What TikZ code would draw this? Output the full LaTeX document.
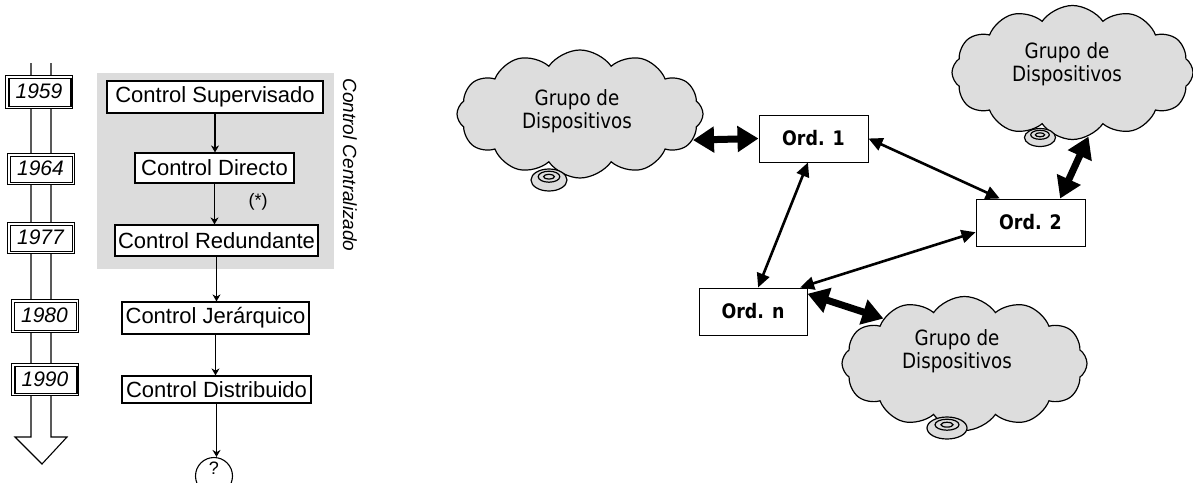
\documentclass[tikz,border=0pt]{standalone}
\usepackage{fontspec}
\setmainfont{Liberation Sans}
\newfontfamily\tahoma[FakeStretch=0.87]{DejaVu Sans}
\usetikzlibrary{arrows.meta,shapes.symbols,calc}
\definecolor{panelgray}{HTML}{DCDCDC}
\definecolor{cloudgray}{HTML}{DDDDDD}
\begin{document}
\begin{tikzpicture}[x=1pt,y=-1pt,
  flowbox/.style={draw,line width=1.2pt,fill=white,inner sep=0pt,
    font=\fontsize{22}{26}\selectfont},
  yearbox/.style={draw,line width=0.8pt,fill=white,inner sep=0pt,
    minimum width=67pt,font=\fontsize{21}{25}\selectfont\itshape},
  flowarrow/.style={line width=1.3pt,-{Stealth[length=7pt,width=8pt]}},
  ordbox/.style={draw,line width=1pt,fill=white,minimum width=109pt,
    minimum height=47pt,inner sep=0pt,
    font=\tahoma\bfseries\fontsize{20}{24}\selectfont},
  cloudgroup/.style={cloud,cloud puffs=12,cloud puff arc=110,draw,
    cloud ignores aspect,line width=1.2pt,fill=cloudgray,inner sep=0pt},
  cloudtext/.style={align=center,font=\tahoma\fontsize{21}{23}\selectfont},
  thickarrow/.style={line width=7pt,
    {Triangle[length=21pt,width=25pt]}-{Triangle[length=21pt,width=25pt]}},
  thinarrow/.style={line width=2.6pt,
    {Triangle[length=14pt,width=13pt]}-{Triangle[length=14pt,width=13pt]}},
  bubble/.style={draw,line width=1.2pt,fill=cloudgray}
]
\useasboundingbox (0,0) rectangle (1193,482);

% ---- time line with hollow arrow ----
\draw[line width=1.1pt] (31,63) -- (31,437) -- (15,437) -- (42,464)
  -- (67,437) -- (51,437) -- (51,63);

\node[yearbox,minimum height=33pt] (y59) at (39,91.5) {1959};
\node[yearbox,minimum height=31pt] (y64) at (40.5,168.5) {1964};
\node[yearbox,minimum height=31pt] (y77) at (40.5,237.5) {1977};
\node[yearbox,minimum height=33pt] (y80) at (44.5,315.5) {1980};
\node[yearbox,minimum height=32pt] (y90) at (45,379) {1990};
\foreach \yb in {y59,y64,y77,y80,y90}{
  \draw[line width=1.6pt] ($(\yb.north west)+(4,4)$) rectangle ($(\yb.south east)+(-2,-2)$);
}

% ---- centralised control panel ----
\fill[panelgray] (97,73) rectangle (334,269);
\node[rotate=-90,font=\fontsize{19}{22}\selectfont\itshape] (cc) at (350,165)
  {Control Centralizado};

\node[flowbox,minimum width=216pt,minimum height=32pt] (sup) at (215,97) {Control Supervisado};
\node[flowbox,minimum width=159pt,minimum height=30pt] (dir) at (214.5,168) {Control Directo};
\node[flowbox,minimum width=203pt,minimum height=31pt] (red) at (216.5,240.5) {Control Redundante};
\node[flowbox,minimum width=187pt,minimum height=32pt] (jer) at (215.5,318) {Control Jerárquico};
\node[flowbox,minimum width=189pt,minimum height=27pt] (dis) at (216.5,389.5) {Control Distribuido};
\node[circle,draw,line width=1.1pt,minimum size=37pt] (q) at (214,476) {};
\node[font=\fontsize{18}{20}\selectfont] (qmark) at (214,468) {?};
\node[font=\fontsize{18}{20}\selectfont] (star) at (258,202) {(*)};

\draw[flowarrow] (sup.south) -- (sup.south |- dir.north);
\draw[flowarrow] (dir.south) -- (dir.south |- red.north);
\draw[flowarrow] (red.south) -- (red.south |- jer.north);
\draw[flowarrow] (jer.south) -- (jer.south |- dis.north);
\draw[flowarrow] (dis.south) -- (dis.south |- q.north);

% ---- computers and device groups ----
\node[cloudgroup,minimum width=246pt,minimum height=128pt] (c1) at (580,114) {};
\node[cloudgroup,minimum width=241pt,minimum height=134pt] (c2) at (1072.5,72.5) {};
\node[cloudgroup,minimum width=245pt,minimum height=134pt] (c3) at (964.5,363.5) {};
\node[cloudtext] (t1) at (577,111) {Grupo de\\Dispositivos};
\node[cloudtext] (t2) at (1067,64.5) {Grupo de\\Dispositivos};
\node[cloudtext] (t3) at (957,351.5) {Grupo de\\Dispositivos};

\foreach \cx/\cy/\rx/\ry in {549/180/18/11, 1040/137.5/15.5/9, 947/428/20/11}{
  \draw[bubble] (\cx,\cy) ellipse [x radius=\rx pt, y radius=\ry pt];
  \draw[line width=1.2pt] (\cx,\cy-0.3*\ry) ellipse [x radius=0.6*\rx pt, y radius=0.5*\ry pt];
  \draw[line width=1.2pt] (\cx,\cy-0.3*\ry) ellipse [x radius=0.3*\rx pt, y radius=0.22*\ry pt];
}

\node[ordbox] (o1) at (813.5,138.5) {Ord. 1};
\node[ordbox] (o2) at (1030.5,222.5) {Ord. 2};
\node[ordbox,minimum width=108pt] (on) at (753,311.5) {Ord. n};

\draw[thickarrow] (c1.-13) -- (o1.west);
\draw[thinarrow] (o1.east) -- (o2.142);
\draw[thinarrow] (o2.190.7) -- (on.27.6);
\draw[thinarrow] (o1.257.3) -- (on.78.5);
\draw[thickarrow] (o2.39.3) -- (c2.284.7);
\draw[thickarrow] (on.18) -- (c3.151.6);
\end{tikzpicture}
\end{document}
